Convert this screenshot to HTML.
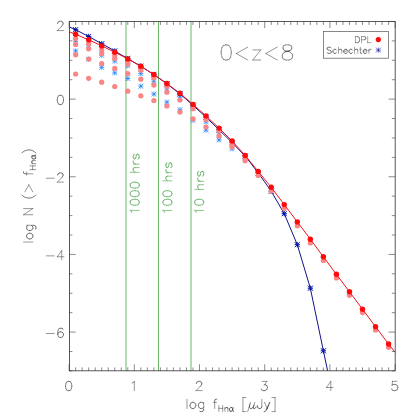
<!DOCTYPE html><html><head><meta charset="utf-8"><style>html,body{margin:0;padding:0;background:#fff;font-family:"Liberation Sans",sans-serif}svg{display:block}</style></head><body><svg width="415" height="415" viewBox="0 0 415 415"><rect width="415" height="415" fill="#fff"/><line x1="126.00" y1="21.45" x2="126.00" y2="370.92" stroke="#6ab86a" stroke-width="1.0"/><line x1="158.50" y1="21.45" x2="158.50" y2="370.92" stroke="#6ab86a" stroke-width="1.0"/><line x1="191.00" y1="21.45" x2="191.00" y2="370.92" stroke="#6ab86a" stroke-width="1.0"/><path d="M73.07 41.30H78.17M75.62 38.75V43.85M73.20 38.88L78.04 43.72M73.20 43.72L78.04 38.88" stroke="#1e82ff" stroke-width="0.75" fill="none"/><path d="M73.07 50.90H78.17M75.62 48.35V53.45M73.20 48.48L78.04 53.32M73.20 53.32L78.04 48.48" stroke="#1e82ff" stroke-width="0.75" fill="none"/><path d="M86.11 45.60H91.21M88.66 43.05V48.15M86.24 43.18L91.08 48.02M86.24 48.02L91.08 43.18" stroke="#1e82ff" stroke-width="0.75" fill="none"/><path d="M86.11 59.10H91.21M88.66 56.55V61.65M86.24 56.68L91.08 61.52M86.24 61.52L91.08 56.68" stroke="#1e82ff" stroke-width="0.75" fill="none"/><path d="M99.15 55.30H104.25M101.70 52.75V57.85M99.28 52.88L104.12 57.72M99.28 57.72L104.12 52.88" stroke="#1e82ff" stroke-width="0.75" fill="none"/><path d="M99.15 67.40H104.25M101.70 64.85V69.95M99.28 64.98L104.12 69.82M99.28 69.82L104.12 64.98" stroke="#1e82ff" stroke-width="0.75" fill="none"/><path d="M112.19 61.10H117.29M114.74 58.55V63.65M112.32 58.68L117.16 63.52M112.32 63.52L117.16 58.68" stroke="#1e82ff" stroke-width="0.75" fill="none"/><path d="M112.19 72.90H117.29M114.74 70.35V75.45M112.32 70.48L117.16 75.32M112.32 75.32L117.16 70.48" stroke="#1e82ff" stroke-width="0.75" fill="none"/><path d="M125.23 65.70H130.33M127.78 63.15V68.25M125.36 63.28L130.20 68.12M125.36 68.12L130.20 63.28" stroke="#1e82ff" stroke-width="0.75" fill="none"/><path d="M125.23 78.50H130.33M127.78 75.95V81.05M125.36 76.08L130.20 80.92M125.36 80.92L130.20 76.08" stroke="#1e82ff" stroke-width="0.75" fill="none"/><path d="M138.27 73.60H143.37M140.82 71.05V76.15M138.40 71.18L143.24 76.02M138.40 76.02L143.24 71.18" stroke="#1e82ff" stroke-width="0.75" fill="none"/><path d="M138.27 86.20H143.37M140.82 83.65V88.75M138.40 83.78L143.24 88.62M138.40 88.62L143.24 83.78" stroke="#1e82ff" stroke-width="0.75" fill="none"/><path d="M151.31 81.30H156.41M153.86 78.75V83.85M151.44 78.88L156.28 83.72M151.44 83.72L156.28 78.88" stroke="#1e82ff" stroke-width="0.75" fill="none"/><path d="M151.31 94.10H156.41M153.86 91.55V96.65M151.44 91.68L156.28 96.52M151.44 96.52L156.28 91.68" stroke="#1e82ff" stroke-width="0.75" fill="none"/><path d="M164.35 89.00H169.45M166.90 86.45V91.55M164.48 86.58L169.32 91.42M164.48 91.42L169.32 86.58" stroke="#1e82ff" stroke-width="0.75" fill="none"/><path d="M164.35 102.20H169.45M166.90 99.65V104.75M164.48 99.78L169.32 104.62M164.48 104.62L169.32 99.78" stroke="#1e82ff" stroke-width="0.75" fill="none"/><path d="M177.39 97.20H182.49M179.94 94.65V99.75M177.52 94.78L182.36 99.62M177.52 99.62L182.36 94.78" stroke="#1e82ff" stroke-width="0.75" fill="none"/><path d="M177.39 109.70H182.49M179.94 107.15V112.25M177.52 107.28L182.36 112.12M177.52 112.12L182.36 107.28" stroke="#1e82ff" stroke-width="0.75" fill="none"/><path d="M190.43 108.00H195.53M192.98 105.45V110.55M190.56 105.58L195.40 110.42M190.56 110.42L195.40 105.58" stroke="#1e82ff" stroke-width="0.75" fill="none"/><path d="M190.43 120.30H195.53M192.98 117.75V122.85M190.56 117.88L195.40 122.72M190.56 122.72L195.40 117.88" stroke="#1e82ff" stroke-width="0.75" fill="none"/><path d="M203.47 121.80H208.57M206.02 119.25V124.35M203.60 119.38L208.44 124.22M203.60 124.22L208.44 119.38" stroke="#1e82ff" stroke-width="0.75" fill="none"/><path d="M203.47 130.10H208.57M206.02 127.55V132.65M203.60 127.68L208.44 132.52M203.60 132.52L208.44 127.68" stroke="#1e82ff" stroke-width="0.75" fill="none"/><path d="M216.51 133.00H221.61M219.06 130.45V135.55M216.64 130.58L221.48 135.42M216.64 135.42L221.48 130.58" stroke="#1e82ff" stroke-width="0.75" fill="none"/><path d="M216.51 139.90H221.61M219.06 137.35V142.45M216.64 137.48L221.48 142.32M216.64 142.32L221.48 137.48" stroke="#1e82ff" stroke-width="0.75" fill="none"/><path d="M229.55 148.80H234.65M232.10 146.25V151.35M229.68 146.38L234.52 151.22M229.68 151.22L234.52 146.38" stroke="#1e82ff" stroke-width="0.75" fill="none"/><path d="M73.07 29.70H78.17M75.62 27.15V32.25M73.20 27.28L78.04 32.12M73.20 32.12L78.04 27.28" stroke="#1e82ff" stroke-width="0.75" fill="none"/><path d="M86.11 36.50H91.21M88.66 33.95V39.05M86.24 34.08L91.08 38.92M86.24 38.92L91.08 34.08" stroke="#1e82ff" stroke-width="0.75" fill="none"/><path d="M99.15 43.70H104.25M101.70 41.15V46.25M99.28 41.28L104.12 46.12M99.28 46.12L104.12 41.28" stroke="#1e82ff" stroke-width="0.75" fill="none"/><path d="M112.19 51.00H117.29M114.74 48.45V53.55M112.32 48.58L117.16 53.42M112.32 53.42L117.16 48.58" stroke="#1e82ff" stroke-width="0.75" fill="none"/><path d="M125.23 58.60H130.33M127.78 56.05V61.15M125.36 56.18L130.20 61.02M125.36 61.02L130.20 56.18" stroke="#1e82ff" stroke-width="0.75" fill="none"/><path d="M138.27 66.20H143.37M140.82 63.65V68.75M138.40 63.78L143.24 68.62M138.40 68.62L143.24 63.78" stroke="#1e82ff" stroke-width="0.75" fill="none"/><path d="M151.31 74.60H156.41M153.86 72.05V77.15M151.44 72.18L156.28 77.02M151.44 77.02L156.28 72.18" stroke="#1e82ff" stroke-width="0.75" fill="none"/><path d="M164.35 83.80H169.45M166.90 81.25V86.35M164.48 81.38L169.32 86.22M164.48 86.22L169.32 81.38" stroke="#1e82ff" stroke-width="0.75" fill="none"/><path d="M177.39 93.90H182.49M179.94 91.35V96.45M177.52 91.48L182.36 96.32M177.52 96.32L182.36 91.48" stroke="#1e82ff" stroke-width="0.75" fill="none"/><path d="M190.43 105.20H195.53M192.98 102.65V107.75M190.56 102.78L195.40 107.62M190.56 107.62L195.40 102.78" stroke="#1e82ff" stroke-width="0.75" fill="none"/><path d="M203.47 117.20H208.57M206.02 114.65V119.75M203.60 114.78L208.44 119.62M203.60 119.62L208.44 114.78" stroke="#1e82ff" stroke-width="0.75" fill="none"/><path d="M216.51 129.80H221.61M219.06 127.25V132.35M216.64 127.38L221.48 132.22M216.64 132.22L221.48 127.38" stroke="#1e82ff" stroke-width="0.75" fill="none"/><path d="M229.55 142.60H234.65M232.10 140.05V145.15M229.68 140.18L234.52 145.02M229.68 145.02L234.52 140.18" stroke="#1e82ff" stroke-width="0.75" fill="none"/><path d="M242.59 156.00H247.69M245.14 153.45V158.55M242.72 153.58L247.56 158.42M242.72 158.42L247.56 153.58" stroke="#1e82ff" stroke-width="0.75" fill="none"/><path d="M255.63 172.80H260.73M258.18 170.25V175.35M255.76 170.38L260.60 175.22M255.76 175.22L260.60 170.38" stroke="#1e82ff" stroke-width="0.75" fill="none"/><path d="M268.67 191.20H273.77M271.22 188.65V193.75M268.80 188.78L273.64 193.62M268.80 193.62L273.64 188.78" stroke="#1e82ff" stroke-width="0.75" fill="none"/><path d="M281.71 213.70H286.81M284.26 211.15V216.25M281.84 211.28L286.68 216.12M281.84 216.12L286.68 211.28" stroke="#1e82ff" stroke-width="0.75" fill="none"/><path d="M294.75 244.70H299.85M297.30 242.15V247.25M294.88 242.28L299.72 247.12M294.88 247.12L299.72 242.28" stroke="#1e82ff" stroke-width="0.75" fill="none"/><path d="M307.79 288.20H312.89M310.34 285.65V290.75M307.92 285.78L312.76 290.62M307.92 290.62L312.76 285.78" stroke="#1e82ff" stroke-width="0.75" fill="none"/><path d="M320.83 350.80H325.93M323.38 348.25V353.35M320.96 348.38L325.80 353.22M320.96 353.22L325.80 348.38" stroke="#1e82ff" stroke-width="0.75" fill="none"/><polyline points="69.45,27.00 75.62,29.70 88.66,36.50 101.70,43.70 114.74,51.00 127.78,58.60 140.82,66.20 153.86,74.60 166.90,83.80 179.94,93.90 192.98,105.20 206.02,117.20 219.06,129.80 232.10,142.60 245.14,156.00 258.18,172.80 271.22,191.20 284.26,213.70 297.30,244.70 310.34,288.20 323.38,350.80 327.60,370.80" fill="none" stroke="#12128c" stroke-width="1.0"/><path d="M73.02 29.70H78.22M75.62 27.10V32.30M73.15 27.23L78.09 32.17M73.15 32.17L78.09 27.23" stroke="#0c0c96" stroke-width="0.85" fill="none"/><path d="M86.06 36.50H91.26M88.66 33.90V39.10M86.19 34.03L91.13 38.97M86.19 38.97L91.13 34.03" stroke="#0c0c96" stroke-width="0.85" fill="none"/><path d="M99.10 43.70H104.30M101.70 41.10V46.30M99.23 41.23L104.17 46.17M99.23 46.17L104.17 41.23" stroke="#0c0c96" stroke-width="0.85" fill="none"/><path d="M112.14 51.00H117.34M114.74 48.40V53.60M112.27 48.53L117.21 53.47M112.27 53.47L117.21 48.53" stroke="#0c0c96" stroke-width="0.85" fill="none"/><path d="M125.18 58.60H130.38M127.78 56.00V61.20M125.31 56.13L130.25 61.07M125.31 61.07L130.25 56.13" stroke="#0c0c96" stroke-width="0.85" fill="none"/><path d="M138.22 66.20H143.42M140.82 63.60V68.80M138.35 63.73L143.29 68.67M138.35 68.67L143.29 63.73" stroke="#0c0c96" stroke-width="0.85" fill="none"/><path d="M151.26 74.60H156.46M153.86 72.00V77.20M151.39 72.13L156.33 77.07M151.39 77.07L156.33 72.13" stroke="#0c0c96" stroke-width="0.85" fill="none"/><path d="M164.30 83.80H169.50M166.90 81.20V86.40M164.43 81.33L169.37 86.27M164.43 86.27L169.37 81.33" stroke="#0c0c96" stroke-width="0.85" fill="none"/><path d="M177.34 93.90H182.54M179.94 91.30V96.50M177.47 91.43L182.41 96.37M177.47 96.37L182.41 91.43" stroke="#0c0c96" stroke-width="0.85" fill="none"/><path d="M190.38 105.20H195.58M192.98 102.60V107.80M190.51 102.73L195.45 107.67M190.51 107.67L195.45 102.73" stroke="#0c0c96" stroke-width="0.85" fill="none"/><path d="M203.42 117.20H208.62M206.02 114.60V119.80M203.55 114.73L208.49 119.67M203.55 119.67L208.49 114.73" stroke="#0c0c96" stroke-width="0.85" fill="none"/><path d="M216.46 129.80H221.66M219.06 127.20V132.40M216.59 127.33L221.53 132.27M216.59 132.27L221.53 127.33" stroke="#0c0c96" stroke-width="0.85" fill="none"/><path d="M229.50 142.60H234.70M232.10 140.00V145.20M229.63 140.13L234.57 145.07M229.63 145.07L234.57 140.13" stroke="#0c0c96" stroke-width="0.85" fill="none"/><path d="M242.54 156.00H247.74M245.14 153.40V158.60M242.67 153.53L247.61 158.47M242.67 158.47L247.61 153.53" stroke="#0c0c96" stroke-width="0.85" fill="none"/><path d="M255.58 172.80H260.78M258.18 170.20V175.40M255.71 170.33L260.65 175.27M255.71 175.27L260.65 170.33" stroke="#0c0c96" stroke-width="0.85" fill="none"/><path d="M268.62 191.20H273.82M271.22 188.60V193.80M268.75 188.73L273.69 193.67M268.75 193.67L273.69 188.73" stroke="#0c0c96" stroke-width="0.85" fill="none"/><path d="M281.66 213.70H286.86M284.26 211.10V216.30M281.79 211.23L286.73 216.17M281.79 216.17L286.73 211.23" stroke="#0c0c96" stroke-width="0.85" fill="none"/><path d="M294.70 244.70H299.90M297.30 242.10V247.30M294.83 242.23L299.77 247.17M294.83 247.17L299.77 242.23" stroke="#0c0c96" stroke-width="0.85" fill="none"/><path d="M307.74 288.20H312.94M310.34 285.60V290.80M307.87 285.73L312.81 290.67M307.87 290.67L312.81 285.73" stroke="#0c0c96" stroke-width="0.85" fill="none"/><path d="M320.78 350.80H325.98M323.38 348.20V353.40M320.91 348.33L325.85 353.27M320.91 353.27L325.85 348.33" stroke="#0c0c96" stroke-width="0.85" fill="none"/><circle cx="75.62" cy="38.40" r="2.6" fill="#fb8484"/><circle cx="75.62" cy="44.40" r="2.6" fill="#fb8484"/><circle cx="75.62" cy="54.80" r="2.6" fill="#fb8484"/><circle cx="75.62" cy="74.00" r="2.6" fill="#fb8484"/><circle cx="88.66" cy="43.70" r="2.6" fill="#fb8484"/><circle cx="88.66" cy="48.80" r="2.6" fill="#fb8484"/><circle cx="88.66" cy="59.10" r="2.6" fill="#fb8484"/><circle cx="88.66" cy="78.30" r="2.6" fill="#fb8484"/><circle cx="101.70" cy="50.00" r="2.6" fill="#fb8484"/><circle cx="101.70" cy="53.60" r="2.6" fill="#fb8484"/><circle cx="101.70" cy="63.50" r="2.6" fill="#fb8484"/><circle cx="101.70" cy="82.20" r="2.6" fill="#fb8484"/><circle cx="114.74" cy="55.80" r="2.6" fill="#fb8484"/><circle cx="114.74" cy="58.70" r="2.6" fill="#fb8484"/><circle cx="114.74" cy="68.40" r="2.6" fill="#fb8484"/><circle cx="114.74" cy="86.50" r="2.6" fill="#fb8484"/><circle cx="127.78" cy="61.50" r="2.6" fill="#fb8484"/><circle cx="127.78" cy="63.90" r="2.6" fill="#fb8484"/><circle cx="127.78" cy="73.50" r="2.6" fill="#fb8484"/><circle cx="127.78" cy="91.20" r="2.6" fill="#fb8484"/><circle cx="140.82" cy="68.50" r="2.6" fill="#fb8484"/><circle cx="140.82" cy="70.20" r="2.6" fill="#fb8484"/><circle cx="140.82" cy="79.20" r="2.6" fill="#fb8484"/><circle cx="140.82" cy="95.80" r="2.6" fill="#fb8484"/><circle cx="153.86" cy="77.90" r="2.6" fill="#fb8484"/><circle cx="153.86" cy="85.10" r="2.6" fill="#fb8484"/><circle cx="153.86" cy="100.50" r="2.6" fill="#fb8484"/><circle cx="166.90" cy="86.40" r="2.6" fill="#fb8484"/><circle cx="166.90" cy="92.20" r="2.6" fill="#fb8484"/><circle cx="166.90" cy="106.00" r="2.6" fill="#fb8484"/><circle cx="179.94" cy="100.00" r="2.6" fill="#fb8484"/><circle cx="179.94" cy="112.10" r="2.6" fill="#fb8484"/><circle cx="192.98" cy="108.70" r="2.6" fill="#fb8484"/><circle cx="192.98" cy="118.80" r="2.6" fill="#fb8484"/><circle cx="206.02" cy="119.50" r="2.6" fill="#fb8484"/><circle cx="206.02" cy="127.00" r="2.6" fill="#fb8484"/><circle cx="219.06" cy="131.00" r="2.6" fill="#fb8484"/><circle cx="219.06" cy="136.00" r="2.6" fill="#fb8484"/><circle cx="232.10" cy="144.50" r="2.6" fill="#fb8484"/><circle cx="232.10" cy="146.90" r="2.6" fill="#fb8484"/><circle cx="245.14" cy="158.90" r="2.6" fill="#fb8484"/><circle cx="245.14" cy="160.70" r="2.6" fill="#fb8484"/><circle cx="258.18" cy="175.40" r="2.6" fill="#fb8484"/><circle cx="271.22" cy="191.10" r="2.6" fill="#fb8484"/><circle cx="284.26" cy="208.40" r="2.6" fill="#fb8484"/><circle cx="297.30" cy="225.80" r="2.6" fill="#fb8484"/><circle cx="310.34" cy="242.90" r="2.6" fill="#fb8484"/><circle cx="323.38" cy="260.50" r="2.6" fill="#fb8484"/><circle cx="336.42" cy="277.90" r="2.6" fill="#fb8484"/><circle cx="349.46" cy="295.30" r="2.6" fill="#fb8484"/><circle cx="362.50" cy="312.60" r="2.6" fill="#fb8484"/><circle cx="375.54" cy="330.00" r="2.6" fill="#fb8484"/><circle cx="388.58" cy="347.30" r="2.6" fill="#fb8484"/><polyline points="69.45,31.90 75.62,34.30 88.66,39.80 101.70,45.90 114.74,52.20 127.78,58.90 140.82,66.30 153.86,74.50 166.90,83.50 179.94,93.30 192.98,104.40 206.02,115.90 219.06,128.10 232.10,141.00 245.14,155.40 258.18,171.40 271.22,187.30 284.26,204.60 297.30,221.90 310.34,239.20 323.38,256.80 336.42,274.30 349.46,291.80 362.50,309.20 375.54,326.70 388.58,344.00 395.00,352.30" fill="none" stroke="#f0141e" stroke-width="1.0"/><circle cx="75.62" cy="34.30" r="2.7" fill="#ff0a0a"/><circle cx="88.66" cy="39.80" r="2.7" fill="#ff0a0a"/><circle cx="101.70" cy="45.90" r="2.7" fill="#ff0a0a"/><circle cx="114.74" cy="52.20" r="2.7" fill="#ff0a0a"/><circle cx="127.78" cy="58.90" r="2.7" fill="#ff0a0a"/><circle cx="140.82" cy="66.30" r="2.7" fill="#ff0a0a"/><circle cx="153.86" cy="74.50" r="2.7" fill="#ff0a0a"/><circle cx="166.90" cy="83.50" r="2.7" fill="#ff0a0a"/><circle cx="179.94" cy="93.30" r="2.7" fill="#ff0a0a"/><circle cx="192.98" cy="104.40" r="2.7" fill="#ff0a0a"/><circle cx="206.02" cy="115.90" r="2.7" fill="#ff0a0a"/><circle cx="219.06" cy="128.10" r="2.7" fill="#ff0a0a"/><circle cx="232.10" cy="141.00" r="2.7" fill="#ff0a0a"/><circle cx="245.14" cy="155.40" r="2.7" fill="#ff0a0a"/><circle cx="258.18" cy="171.40" r="2.7" fill="#ff0a0a"/><circle cx="271.22" cy="187.30" r="2.7" fill="#ff0a0a"/><circle cx="284.26" cy="204.60" r="2.7" fill="#ff0a0a"/><circle cx="297.30" cy="221.90" r="2.7" fill="#ff0a0a"/><circle cx="310.34" cy="239.20" r="2.7" fill="#ff0a0a"/><circle cx="323.38" cy="256.80" r="2.7" fill="#ff0a0a"/><circle cx="336.42" cy="274.30" r="2.7" fill="#ff0a0a"/><circle cx="349.46" cy="291.80" r="2.7" fill="#ff0a0a"/><circle cx="362.50" cy="309.20" r="2.7" fill="#ff0a0a"/><circle cx="375.54" cy="326.70" r="2.7" fill="#ff0a0a"/><circle cx="388.58" cy="344.00" r="2.7" fill="#ff0a0a"/><g stroke="#3c3c3c" stroke-width="0.6" fill="none"><rect x="69.45" y="21.50" width="325.75" height="349.30" stroke-width="0.85"/><path d="M69.10 370.92v-6.60M69.10 21.45v6.60M75.62 370.92v-3.50M75.62 21.45v3.50M82.14 370.92v-3.50M82.14 21.45v3.50M88.66 370.92v-3.50M88.66 21.45v3.50M95.18 370.92v-3.50M95.18 21.45v3.50M101.70 370.92v-3.50M101.70 21.45v3.50M108.22 370.92v-3.50M108.22 21.45v3.50M114.74 370.92v-3.50M114.74 21.45v3.50M121.26 370.92v-3.50M121.26 21.45v3.50M127.78 370.92v-3.50M127.78 21.45v3.50M134.30 370.92v-6.60M134.30 21.45v6.60M140.82 370.92v-3.50M140.82 21.45v3.50M147.34 370.92v-3.50M147.34 21.45v3.50M153.86 370.92v-3.50M153.86 21.45v3.50M160.38 370.92v-3.50M160.38 21.45v3.50M166.90 370.92v-3.50M166.90 21.45v3.50M173.42 370.92v-3.50M173.42 21.45v3.50M179.94 370.92v-3.50M179.94 21.45v3.50M186.46 370.92v-3.50M186.46 21.45v3.50M192.98 370.92v-3.50M192.98 21.45v3.50M199.50 370.92v-6.60M199.50 21.45v6.60M206.02 370.92v-3.50M206.02 21.45v3.50M212.54 370.92v-3.50M212.54 21.45v3.50M219.06 370.92v-3.50M219.06 21.45v3.50M225.58 370.92v-3.50M225.58 21.45v3.50M232.10 370.92v-3.50M232.10 21.45v3.50M238.62 370.92v-3.50M238.62 21.45v3.50M245.14 370.92v-3.50M245.14 21.45v3.50M251.66 370.92v-3.50M251.66 21.45v3.50M258.18 370.92v-3.50M258.18 21.45v3.50M264.70 370.92v-6.60M264.70 21.45v6.60M271.22 370.92v-3.50M271.22 21.45v3.50M277.74 370.92v-3.50M277.74 21.45v3.50M284.26 370.92v-3.50M284.26 21.45v3.50M290.78 370.92v-3.50M290.78 21.45v3.50M297.30 370.92v-3.50M297.30 21.45v3.50M303.82 370.92v-3.50M303.82 21.45v3.50M310.34 370.92v-3.50M310.34 21.45v3.50M316.86 370.92v-3.50M316.86 21.45v3.50M323.38 370.92v-3.50M323.38 21.45v3.50M329.90 370.92v-6.60M329.90 21.45v6.60M336.42 370.92v-3.50M336.42 21.45v3.50M342.94 370.92v-3.50M342.94 21.45v3.50M349.46 370.92v-3.50M349.46 21.45v3.50M355.98 370.92v-3.50M355.98 21.45v3.50M362.50 370.92v-3.50M362.50 21.45v3.50M369.02 370.92v-3.50M369.02 21.45v3.50M375.54 370.92v-3.50M375.54 21.45v3.50M382.06 370.92v-3.50M382.06 21.45v3.50M388.58 370.92v-3.50M388.58 21.45v3.50M395.10 370.92v-6.60M395.10 21.45v6.60M69.10 21.45h6.60M395.10 21.45h-6.60M69.10 40.86h3.30M395.10 40.86h-3.30M69.10 60.28h3.30M395.10 60.28h-3.30M69.10 79.69h3.30M395.10 79.69h-3.30M69.10 99.11h6.60M395.10 99.11h-6.60M69.10 118.52h3.30M395.10 118.52h-3.30M69.10 137.94h3.30M395.10 137.94h-3.30M69.10 157.35h3.30M395.10 157.35h-3.30M69.10 176.77h6.60M395.10 176.77h-6.60M69.10 196.18h3.30M395.10 196.18h-3.30M69.10 215.60h3.30M395.10 215.60h-3.30M69.10 235.01h3.30M395.10 235.01h-3.30M69.10 254.43h6.60M395.10 254.43h-6.60M69.10 273.84h3.30M395.10 273.84h-3.30M69.10 293.26h3.30M395.10 293.26h-3.30M69.10 312.67h3.30M395.10 312.67h-3.30M69.10 332.09h6.60M395.10 332.09h-6.60M69.10 351.50h3.30M395.10 351.50h-3.30M69.10 370.92h3.30M395.10 370.92h-3.30"/></g><g stroke="#383838" stroke-width="0.52" fill="none" stroke-linecap="round" stroke-linejoin="round"><path transform="translate(68.70 390.60) rotate(0)" d="M-0.44 -9.24L0.44 -9.24M-0.44 -9.24L-1.76 -8.80M0.44 -9.24L1.76 -8.80M-1.76 -8.80L-2.64 -7.48M1.76 -8.80L2.64 -7.48M-2.64 -7.48L-3.08 -5.28M2.64 -7.48L3.08 -5.28M-3.08 -5.28L-3.08 -3.96M3.08 -5.28L3.08 -3.96M-3.08 -3.96L-2.64 -1.76M3.08 -3.96L2.64 -1.76M-2.64 -1.76L-1.76 -0.44M2.64 -1.76L1.76 -0.44M-1.76 -0.44L-0.44 0.00M1.76 -0.44L0.44 0.00M-0.44 0.00L0.44 0.00"/><path transform="translate(133.90 390.60) rotate(0)" d="M0.44 -9.24L-0.88 -7.92M0.44 -9.24L0.44 0.00M-0.88 -7.92L-1.76 -7.48"/><path transform="translate(199.10 390.60) rotate(0)" d="M-0.88 -9.24L0.88 -9.24M-0.88 -9.24L-1.76 -8.80M0.88 -9.24L1.76 -8.80M-1.76 -8.80L-2.20 -8.36M1.76 -8.80L2.20 -8.36M-2.20 -8.36L-2.64 -7.48M2.20 -8.36L2.64 -7.48M-2.64 -7.48L-2.64 -7.04M2.64 -7.48L2.64 -6.60M2.64 -6.60L2.20 -5.72M2.20 -5.72L1.32 -4.40M1.32 -4.40L-3.08 0.00M-3.08 0.00L3.08 0.00"/><path transform="translate(264.30 390.60) rotate(0)" d="M-2.20 -9.24L2.64 -9.24M2.64 -9.24L0.00 -5.72M0.00 -5.72L1.32 -5.72M1.32 -5.72L2.20 -5.28M2.20 -5.28L2.64 -4.84M2.64 -4.84L3.08 -3.52M3.08 -3.52L3.08 -2.64M3.08 -2.64L2.64 -1.32M-3.08 -1.76L-2.64 -0.88M2.64 -1.32L1.76 -0.44M-2.64 -0.88L-2.20 -0.44M-2.20 -0.44L-0.88 0.00M1.76 -0.44L0.44 0.00M-0.88 0.00L0.44 0.00"/><path transform="translate(329.50 390.60) rotate(0)" d="M1.32 -9.24L-3.08 -3.08M1.32 -9.24L1.32 0.00M-3.08 -3.08L3.52 -3.08"/><path transform="translate(394.70 390.60) rotate(0)" d="M-2.20 -9.24L2.20 -9.24M-2.20 -9.24L-2.64 -5.28M-0.88 -6.16L0.44 -6.16M-0.88 -6.16L-2.20 -5.72M0.44 -6.16L1.76 -5.72M-2.20 -5.72L-2.64 -5.28M1.76 -5.72L2.64 -4.84M2.64 -4.84L3.08 -3.52M3.08 -3.52L3.08 -2.64M3.08 -2.64L2.64 -1.32M-3.08 -1.76L-2.64 -0.88M2.64 -1.32L1.76 -0.44M-2.64 -0.88L-2.20 -0.44M-2.20 -0.44L-0.88 0.00M1.76 -0.44L0.44 0.00M-0.88 0.00L0.44 0.00"/><path transform="translate(64.80 30.55) rotate(0)" d="M-5.28 -9.24L-3.52 -9.24M-5.28 -9.24L-6.16 -8.80M-3.52 -9.24L-2.64 -8.80M-6.16 -8.80L-6.60 -8.36M-2.64 -8.80L-2.20 -8.36M-6.60 -8.36L-7.04 -7.48M-2.20 -8.36L-1.76 -7.48M-7.04 -7.48L-7.04 -7.04M-1.76 -7.48L-1.76 -6.60M-1.76 -6.60L-2.20 -5.72M-2.20 -5.72L-3.08 -4.40M-3.08 -4.40L-7.48 0.00M-7.48 0.00L-1.32 0.00"/><path transform="translate(64.80 104.51) rotate(0)" d="M-4.84 -9.24L-3.96 -9.24M-4.84 -9.24L-6.16 -8.80M-3.96 -9.24L-2.64 -8.80M-6.16 -8.80L-7.04 -7.48M-2.64 -8.80L-1.76 -7.48M-7.04 -7.48L-7.48 -5.28M-1.76 -7.48L-1.32 -5.28M-7.48 -5.28L-7.48 -3.96M-1.32 -5.28L-1.32 -3.96M-7.48 -3.96L-7.04 -1.76M-1.32 -3.96L-1.76 -1.76M-7.04 -1.76L-6.16 -0.44M-1.76 -1.76L-2.64 -0.44M-6.16 -0.44L-4.84 0.00M-2.64 -0.44L-3.96 0.00M-4.84 0.00L-3.96 0.00"/><path transform="translate(64.80 182.17) rotate(0)" d="M-18.48 -3.96L-10.56 -3.96M-5.28 -9.24L-3.52 -9.24M-5.28 -9.24L-6.16 -8.80M-3.52 -9.24L-2.64 -8.80M-6.16 -8.80L-6.60 -8.36M-2.64 -8.80L-2.20 -8.36M-6.60 -8.36L-7.04 -7.48M-2.20 -8.36L-1.76 -7.48M-7.04 -7.48L-7.04 -7.04M-1.76 -7.48L-1.76 -6.60M-1.76 -6.60L-2.20 -5.72M-2.20 -5.72L-3.08 -4.40M-3.08 -4.40L-7.48 0.00M-7.48 0.00L-1.32 0.00"/><path transform="translate(64.80 259.83) rotate(0)" d="M-18.48 -3.96L-10.56 -3.96M-3.08 -9.24L-7.48 -3.08M-3.08 -9.24L-3.08 0.00M-7.48 -3.08L-0.88 -3.08"/><path transform="translate(64.80 337.49) rotate(0)" d="M-18.48 -3.96L-10.56 -3.96M-4.40 -9.24L-3.52 -9.24M-4.40 -9.24L-5.72 -8.80M-3.52 -9.24L-2.20 -8.80M-5.72 -8.80L-6.60 -7.48M-2.20 -8.80L-1.76 -7.92M-6.60 -7.48L-7.04 -5.28M-4.40 -5.72L-3.96 -5.72M-4.40 -5.72L-5.72 -5.28M-3.96 -5.72L-2.64 -5.28M-7.04 -5.28L-7.04 -3.08M-5.72 -5.28L-6.60 -4.40M-2.64 -5.28L-1.76 -4.40M-6.60 -4.40L-7.04 -3.08M-1.76 -4.40L-1.32 -3.08M-7.04 -3.08L-6.60 -1.32M-1.32 -3.08L-1.32 -2.64M-1.32 -2.64L-1.76 -1.32M-6.60 -1.32L-5.72 -0.44M-1.76 -1.32L-2.64 -0.44M-5.72 -0.44L-4.40 0.00M-2.64 -0.44L-3.96 0.00M-4.40 0.00L-3.96 0.00"/><path transform="translate(231.00 408.50) rotate(0)" d="M-44.04 -9.24L-44.04 0.00M-38.76 -6.16L-37.44 -6.16M-38.76 -6.16L-39.64 -5.72M-37.44 -6.16L-36.56 -5.72M-39.64 -5.72L-40.52 -4.84M-36.56 -5.72L-35.68 -4.84M-40.52 -4.84L-40.96 -3.52M-35.68 -4.84L-35.24 -3.52M-40.96 -3.52L-40.96 -2.64M-35.24 -3.52L-35.24 -2.64M-40.96 -2.64L-40.52 -1.32M-35.24 -2.64L-35.68 -1.32M-40.52 -1.32L-39.64 -0.44M-35.68 -1.32L-36.56 -0.44M-39.64 -0.44L-38.76 0.00M-36.56 -0.44L-37.44 0.00M-38.76 0.00L-37.44 0.00M-30.40 -6.16L-29.08 -6.16M-30.40 -6.16L-31.28 -5.72M-29.08 -6.16L-28.20 -5.72M-27.32 -6.16L-27.32 0.88M-31.28 -5.72L-32.16 -4.84M-28.20 -5.72L-27.32 -4.84M-32.16 -4.84L-32.60 -3.52M-32.60 -3.52L-32.60 -2.64M-32.60 -2.64L-32.16 -1.32M-32.16 -1.32L-31.28 -0.44M-27.32 -1.32L-28.20 -0.44M-31.28 -0.44L-30.40 0.00M-28.20 -0.44L-29.08 0.00M-30.40 0.00L-29.08 0.00M-27.32 0.88L-27.76 2.20M-27.76 2.20L-28.20 2.64M-31.28 2.64L-30.40 3.08M-28.20 2.64L-29.08 3.08M-30.40 3.08L-29.08 3.08M-15.00 -9.24L-14.12 -9.24M-15.00 -9.24L-15.88 -8.80M-15.88 -8.80L-16.32 -7.48M-16.32 -7.48L-16.32 0.00M-17.64 -6.16L-14.56 -6.16M-12.15 -2.87L-12.15 2.86M-8.33 -2.87L-8.33 2.86M-12.15 -0.14L-8.33 -0.14M-6.15 -0.96L-6.15 2.86M-4.79 -0.96L-3.97 -0.96M-4.79 -0.96L-5.33 -0.69M-3.97 -0.96L-3.42 -0.69M-5.33 -0.69L-6.15 0.13M-3.42 -0.69L-3.15 0.13M-3.15 0.13L-3.15 2.86M2.31 -0.96L1.76 0.68M1.76 0.68L1.21 2.04M1.21 2.04L0.67 2.59M0.67 2.59L0.12 2.86M0.12 2.86L-0.42 2.86M-0.42 2.86L-0.97 2.59M-0.97 2.59L-1.24 2.04M-1.24 2.04L-1.51 1.22M-1.51 1.22L-1.51 0.68M-1.51 0.68L-1.24 -0.14M-1.24 -0.14L-0.70 -0.69M-0.70 -0.69L0.12 -0.96M0.12 -0.96L0.67 -0.96M0.67 -0.96L1.21 -0.69M1.21 -0.69L1.49 -0.14M1.49 -0.14L1.76 1.22M1.76 1.22L2.03 2.31M2.03 2.31L2.31 2.86M2.31 2.86L2.58 2.86M11.92 -11.00L15.00 -11.00M11.92 -11.00L11.92 3.08M11.92 3.08L15.00 3.08M19.40 -6.16L16.76 3.08M18.96 -4.40L18.52 -2.20M18.52 -2.20L18.52 -0.88M18.52 -0.88L19.40 0.00M19.40 0.00L20.28 0.00M20.28 0.00L21.16 -0.44M21.16 -0.44L22.04 -1.32M22.04 -1.32L22.92 -3.08M23.80 -6.16L22.92 -3.08M22.92 -3.08L22.48 -1.32M22.48 -1.32L22.48 -0.44M22.48 -0.44L22.92 0.00M22.92 0.00L23.80 0.00M23.80 0.00L24.68 -0.88M24.68 -0.88L25.12 -1.76M30.84 -9.24L30.84 -2.20M26.44 -3.08L26.44 -2.20M26.44 -2.20L26.88 -0.88M30.84 -2.20L30.40 -0.88M26.88 -0.88L27.32 -0.44M30.40 -0.88L29.96 -0.44M27.32 -0.44L28.20 0.00M29.96 -0.44L29.08 0.00M28.20 0.00L29.08 0.00M33.48 -6.16L36.12 0.00M38.76 -6.16L36.12 0.00M38.76 -6.16L35.68 0.88M37.44 -3.08L35.68 0.88M36.12 0.00L35.24 1.76M35.24 1.76L34.36 2.64M34.36 2.64L33.48 3.08M33.04 3.08L33.48 3.08M40.96 -11.00L44.04 -11.00M44.04 -11.00L44.04 3.08M40.96 3.08L44.04 3.08"/><path transform="translate(32.80 196.00) rotate(-90)" d="M-46.02 -9.24L-46.02 0.00M-40.74 -6.16L-39.42 -6.16M-40.74 -6.16L-41.62 -5.72M-39.42 -6.16L-38.54 -5.72M-41.62 -5.72L-42.50 -4.84M-38.54 -5.72L-37.66 -4.84M-42.50 -4.84L-42.94 -3.52M-37.66 -4.84L-37.22 -3.52M-42.94 -3.52L-42.94 -2.64M-37.22 -3.52L-37.22 -2.64M-42.94 -2.64L-42.50 -1.32M-37.22 -2.64L-37.66 -1.32M-42.50 -1.32L-41.62 -0.44M-37.66 -1.32L-38.54 -0.44M-41.62 -0.44L-40.74 0.00M-38.54 -0.44L-39.42 0.00M-40.74 0.00L-39.42 0.00M-32.38 -6.16L-31.06 -6.16M-32.38 -6.16L-33.26 -5.72M-31.06 -6.16L-30.18 -5.72M-29.30 -6.16L-29.30 0.88M-33.26 -5.72L-34.14 -4.84M-30.18 -5.72L-29.30 -4.84M-34.14 -4.84L-34.58 -3.52M-34.58 -3.52L-34.58 -2.64M-34.58 -2.64L-34.14 -1.32M-34.14 -1.32L-33.26 -0.44M-29.30 -1.32L-30.18 -0.44M-33.26 -0.44L-32.38 0.00M-30.18 -0.44L-31.06 0.00M-32.38 0.00L-31.06 0.00M-29.30 0.88L-29.74 2.20M-29.74 2.20L-30.18 2.64M-33.26 2.64L-32.38 3.08M-30.18 2.64L-31.06 3.08M-32.38 3.08L-31.06 3.08M-18.74 -9.24L-18.74 0.00M-18.74 -9.24L-12.58 0.00M-12.58 -9.24L-12.58 0.00M1.06 -11.00L0.18 -10.12M0.18 -10.12L-0.70 -8.80M-0.70 -8.80L-1.58 -7.04M-1.58 -7.04L-2.02 -4.84M-2.02 -4.84L-2.02 -3.08M-2.02 -3.08L-1.58 -0.88M-1.58 -0.88L-0.70 0.88M-0.70 0.88L0.18 2.20M0.18 2.20L1.06 3.08M4.14 -7.92L11.18 -3.96M11.18 -3.96L4.14 0.00M23.50 -9.24L24.38 -9.24M23.50 -9.24L22.62 -8.80M22.62 -8.80L22.18 -7.48M22.18 -7.48L22.18 0.00M20.86 -6.16L23.94 -6.16M26.35 -2.87L26.35 2.86M30.17 -2.87L30.17 2.86M26.35 -0.14L30.17 -0.14M32.35 -0.96L32.35 2.86M33.71 -0.96L34.53 -0.96M33.71 -0.96L33.17 -0.69M34.53 -0.96L35.08 -0.69M33.17 -0.69L32.35 0.13M35.08 -0.69L35.35 0.13M35.35 0.13L35.35 2.86M40.81 -0.96L40.26 0.68M40.26 0.68L39.71 2.04M39.71 2.04L39.17 2.59M39.17 2.59L38.62 2.86M38.62 2.86L38.08 2.86M38.08 2.86L37.53 2.59M37.53 2.59L37.26 2.04M37.26 2.04L36.99 1.22M36.99 1.22L36.99 0.68M36.99 0.68L37.26 -0.14M37.26 -0.14L37.80 -0.69M37.80 -0.69L38.62 -0.96M38.62 -0.96L39.17 -0.96M39.17 -0.96L39.71 -0.69M39.71 -0.69L39.99 -0.14M39.99 -0.14L40.26 1.22M40.26 1.22L40.53 2.31M40.53 2.31L40.81 2.86M40.81 2.86L41.08 2.86M42.94 -11.00L43.82 -10.12M43.82 -10.12L44.70 -8.80M44.70 -8.80L45.58 -7.04M45.58 -7.04L46.02 -4.84M46.02 -4.84L46.02 -3.08M46.02 -3.08L45.58 -0.88M45.58 -0.88L44.70 0.88M44.70 0.88L43.82 2.20M43.82 2.20L42.94 3.08"/><path transform="translate(219.00 60.00) rotate(0)" d="M6.48 -15.12L7.92 -15.12M6.48 -15.12L4.32 -14.40M7.92 -15.12L10.08 -14.40M4.32 -14.40L2.88 -12.24M10.08 -14.40L11.52 -12.24M2.88 -12.24L2.16 -8.64M11.52 -12.24L12.24 -8.64M2.16 -8.64L2.16 -6.48M12.24 -8.64L12.24 -6.48M2.16 -6.48L2.88 -2.88M12.24 -6.48L11.52 -2.88M2.88 -2.88L4.32 -0.72M11.52 -2.88L10.08 -0.72M4.32 -0.72L6.48 0.00M10.08 -0.72L7.92 0.00M6.48 0.00L7.92 0.00M28.80 -12.96L17.28 -6.48M17.28 -6.48L28.80 0.00M33.84 -10.08L41.76 -10.08M41.76 -10.08L33.84 0.00M33.84 0.00L41.76 0.00M58.32 -12.96L46.80 -6.48M46.80 -6.48L58.32 0.00M66.96 -15.12L69.84 -15.12M66.96 -15.12L64.80 -14.40M69.84 -15.12L72.00 -14.40M64.80 -14.40L64.08 -12.96M72.00 -14.40L72.72 -12.96M64.08 -12.96L64.08 -11.52M72.72 -12.96L72.72 -11.52M64.08 -11.52L64.80 -10.08M72.72 -11.52L72.00 -10.08M64.80 -10.08L66.24 -9.36M72.00 -10.08L70.56 -9.36M66.24 -9.36L69.12 -8.64M70.56 -9.36L67.68 -8.64M70.56 -9.36L65.52 -7.92M67.68 -8.64L65.52 -7.92M69.12 -8.64L71.28 -7.92M65.52 -7.92L64.08 -6.48M71.28 -7.92L72.72 -6.48M64.08 -6.48L63.36 -5.04M72.72 -6.48L73.44 -5.04M63.36 -5.04L63.36 -2.88M73.44 -5.04L73.44 -2.88M63.36 -2.88L64.08 -1.44M73.44 -2.88L72.72 -1.44M64.08 -1.44L64.80 -0.72M72.72 -1.44L72.00 -0.72M64.80 -0.72L66.96 0.00M72.00 -0.72L69.84 0.00M66.96 0.00L69.84 0.00"/><g stroke-width="0.45"><path transform="translate(371.50 42.70) rotate(0)" d="M-16.06 -6.13L-14.02 -6.13M-16.06 -6.13L-16.06 0.00M-14.02 -6.13L-13.14 -5.84M-13.14 -5.84L-12.56 -5.26M-12.56 -5.26L-12.26 -4.67M-12.26 -4.67L-11.97 -3.80M-11.97 -3.80L-11.97 -2.34M-11.97 -2.34L-12.26 -1.46M-12.26 -1.46L-12.56 -0.88M-12.56 -0.88L-13.14 -0.29M-13.14 -0.29L-14.02 0.00M-16.06 0.00L-14.02 0.00M-9.93 -6.13L-7.30 -6.13M-9.93 -6.13L-9.93 0.00M-7.30 -6.13L-6.42 -5.84M-6.42 -5.84L-6.13 -5.55M-6.13 -5.55L-5.84 -4.96M-5.84 -4.96L-5.84 -4.09M-5.84 -4.09L-6.13 -3.50M-6.13 -3.50L-6.42 -3.21M-6.42 -3.21L-7.30 -2.92M-9.93 -2.92L-7.30 -2.92M-3.80 -6.13L-3.80 0.00M-3.80 0.00L-0.29 0.00"/><path transform="translate(371.50 53.40) rotate(0)" d="M-42.92 -6.13L-41.76 -6.13M-42.92 -6.13L-43.80 -5.84M-41.76 -6.13L-40.88 -5.84M-43.80 -5.84L-44.38 -5.26M-40.88 -5.84L-40.30 -5.26M-44.38 -5.26L-44.38 -4.67M-44.38 -4.67L-44.09 -4.09M-44.09 -4.09L-43.80 -3.80M-43.80 -3.80L-43.22 -3.50M-43.22 -3.50L-41.46 -2.92M-41.46 -2.92L-40.88 -2.63M-40.88 -2.63L-40.59 -2.34M-40.59 -2.34L-40.30 -1.75M-40.30 -1.75L-40.30 -0.88M-44.38 -0.88L-43.80 -0.29M-40.30 -0.88L-40.88 -0.29M-43.80 -0.29L-42.92 0.00M-40.88 -0.29L-41.76 0.00M-42.92 0.00L-41.76 0.00M-37.08 -4.09L-36.21 -4.09M-37.08 -4.09L-37.67 -3.80M-36.21 -4.09L-35.62 -3.80M-37.67 -3.80L-38.25 -3.21M-35.62 -3.80L-35.04 -3.21M-38.25 -3.21L-38.54 -2.34M-38.54 -2.34L-38.54 -1.75M-38.54 -1.75L-38.25 -0.88M-38.25 -0.88L-37.67 -0.29M-35.04 -0.88L-35.62 -0.29M-37.67 -0.29L-37.08 0.00M-35.62 -0.29L-36.21 0.00M-37.08 0.00L-36.21 0.00M-33.00 -6.13L-33.00 0.00M-31.54 -4.09L-30.66 -4.09M-31.54 -4.09L-32.12 -3.80M-30.66 -4.09L-30.08 -3.80M-32.12 -3.80L-33.00 -2.92M-30.08 -3.80L-29.78 -2.92M-29.78 -2.92L-29.78 0.00M-26.28 -4.09L-25.40 -4.09M-26.28 -4.09L-26.86 -3.80M-25.40 -4.09L-24.82 -3.80M-26.86 -3.80L-27.45 -3.21M-24.82 -3.80L-24.53 -3.50M-24.53 -3.50L-24.24 -2.92M-27.45 -3.21L-27.74 -2.34M-24.24 -2.92L-24.24 -2.34M-27.74 -2.34L-24.24 -2.34M-27.74 -2.34L-27.74 -1.75M-27.74 -1.75L-27.45 -0.88M-27.45 -0.88L-26.86 -0.29M-24.24 -0.88L-24.82 -0.29M-26.86 -0.29L-26.28 0.00M-24.82 -0.29L-25.40 0.00M-26.28 0.00L-25.40 0.00M-21.02 -4.09L-20.15 -4.09M-21.02 -4.09L-21.61 -3.80M-20.15 -4.09L-19.56 -3.80M-21.61 -3.80L-22.19 -3.21M-19.56 -3.80L-18.98 -3.21M-22.19 -3.21L-22.48 -2.34M-22.48 -2.34L-22.48 -1.75M-22.48 -1.75L-22.19 -0.88M-22.19 -0.88L-21.61 -0.29M-18.98 -0.88L-19.56 -0.29M-21.61 -0.29L-21.02 0.00M-19.56 -0.29L-20.15 0.00M-21.02 0.00L-20.15 0.00M-16.94 -6.13L-16.94 0.00M-15.48 -4.09L-14.60 -4.09M-15.48 -4.09L-16.06 -3.80M-14.60 -4.09L-14.02 -3.80M-16.06 -3.80L-16.94 -2.92M-14.02 -3.80L-13.72 -2.92M-13.72 -2.92L-13.72 0.00M-11.10 -6.13L-11.10 -1.17M-11.97 -4.09L-9.93 -4.09M-11.10 -1.17L-10.80 -0.29M-10.80 -0.29L-10.22 0.00M-10.22 0.00L-9.64 0.00M-6.72 -4.09L-5.84 -4.09M-6.72 -4.09L-7.30 -3.80M-5.84 -4.09L-5.26 -3.80M-7.30 -3.80L-7.88 -3.21M-5.26 -3.80L-4.96 -3.50M-4.96 -3.50L-4.67 -2.92M-7.88 -3.21L-8.18 -2.34M-4.67 -2.92L-4.67 -2.34M-8.18 -2.34L-4.67 -2.34M-8.18 -2.34L-8.18 -1.75M-8.18 -1.75L-7.88 -0.88M-7.88 -0.88L-7.30 -0.29M-4.67 -0.88L-5.26 -0.29M-7.30 -0.29L-6.72 0.00M-5.26 -0.29L-5.84 0.00M-6.72 0.00L-5.84 0.00M-2.63 -4.09L-2.63 0.00M-1.17 -4.09L-0.29 -4.09M-1.17 -4.09L-1.75 -3.80M-1.75 -3.80L-2.34 -3.21M-2.34 -3.21L-2.63 -2.34"/></g></g><rect x="323.4" y="31.4" width="65.2" height="26.8" fill="none" stroke="#555" stroke-width="0.7"/><circle cx="378.3" cy="39.6" r="2.6" fill="#ff0a0a"/><path d="M375.80 50.10H381.00M378.40 47.50V52.70M375.93 47.63L380.87 52.57M375.93 52.57L380.87 47.63" stroke="#1414a0" stroke-width="0.60" fill="none"/><g stroke="#4fa84f" stroke-width="0.65" fill="none" stroke-linecap="round"><path transform="translate(139.20 215.10) rotate(-90)" d="M4.71 -8.99L3.42 -7.70M4.71 -8.99L4.71 0.00M3.42 -7.70L2.57 -7.28M12.41 -8.99L13.27 -8.99M12.41 -8.99L11.13 -8.56M13.27 -8.99L14.55 -8.56M11.13 -8.56L10.27 -7.28M14.55 -8.56L15.41 -7.28M10.27 -7.28L9.84 -5.14M15.41 -7.28L15.84 -5.14M9.84 -5.14L9.84 -3.85M15.84 -5.14L15.84 -3.85M9.84 -3.85L10.27 -1.71M15.84 -3.85L15.41 -1.71M10.27 -1.71L11.13 -0.43M15.41 -1.71L14.55 -0.43M11.13 -0.43L12.41 0.00M14.55 -0.43L13.27 0.00M12.41 0.00L13.27 0.00M20.97 -8.99L21.83 -8.99M20.97 -8.99L19.69 -8.56M21.83 -8.99L23.11 -8.56M19.69 -8.56L18.83 -7.28M23.11 -8.56L23.97 -7.28M18.83 -7.28L18.40 -5.14M23.97 -7.28L24.40 -5.14M18.40 -5.14L18.40 -3.85M24.40 -5.14L24.40 -3.85M18.40 -3.85L18.83 -1.71M24.40 -3.85L23.97 -1.71M18.83 -1.71L19.69 -0.43M23.97 -1.71L23.11 -0.43M19.69 -0.43L20.97 0.00M23.11 -0.43L21.83 0.00M20.97 0.00L21.83 0.00M29.53 -8.99L30.39 -8.99M29.53 -8.99L28.25 -8.56M30.39 -8.99L31.67 -8.56M28.25 -8.56L27.39 -7.28M31.67 -8.56L32.53 -7.28M27.39 -7.28L26.96 -5.14M32.53 -7.28L32.96 -5.14M26.96 -5.14L26.96 -3.85M32.96 -5.14L32.96 -3.85M26.96 -3.85L27.39 -1.71M32.96 -3.85L32.53 -1.71M27.39 -1.71L28.25 -0.43M32.53 -1.71L31.67 -0.43M28.25 -0.43L29.53 0.00M31.67 -0.43L30.39 0.00M29.53 0.00L30.39 0.00M42.80 -8.99L42.80 0.00M44.94 -5.99L46.22 -5.99M44.94 -5.99L44.08 -5.56M46.22 -5.99L47.08 -5.56M44.08 -5.56L42.80 -4.28M47.08 -5.56L47.51 -4.28M47.51 -4.28L47.51 0.00M50.93 -5.99L50.93 0.00M53.07 -5.99L54.36 -5.99M53.07 -5.99L52.22 -5.56M52.22 -5.56L51.36 -4.71M51.36 -4.71L50.93 -3.42M57.78 -5.99L59.06 -5.99M57.78 -5.99L56.50 -5.56M59.06 -5.99L60.35 -5.56M56.50 -5.56L56.07 -4.71M60.35 -5.56L60.78 -4.71M56.07 -4.71L56.50 -3.85M56.50 -3.85L57.35 -3.42M57.35 -3.42L59.49 -3.00M59.49 -3.00L60.35 -2.57M60.35 -2.57L60.78 -1.71M60.78 -1.71L60.78 -1.28M56.07 -1.28L56.50 -0.43M60.78 -1.28L60.35 -0.43M56.50 -0.43L57.78 0.00M60.35 -0.43L59.06 0.00M57.78 0.00L59.06 0.00"/><path transform="translate(171.90 215.10) rotate(-90)" d="M4.71 -8.99L3.42 -7.70M4.71 -8.99L4.71 0.00M3.42 -7.70L2.57 -7.28M12.41 -8.99L13.27 -8.99M12.41 -8.99L11.13 -8.56M13.27 -8.99L14.55 -8.56M11.13 -8.56L10.27 -7.28M14.55 -8.56L15.41 -7.28M10.27 -7.28L9.84 -5.14M15.41 -7.28L15.84 -5.14M9.84 -5.14L9.84 -3.85M15.84 -5.14L15.84 -3.85M9.84 -3.85L10.27 -1.71M15.84 -3.85L15.41 -1.71M10.27 -1.71L11.13 -0.43M15.41 -1.71L14.55 -0.43M11.13 -0.43L12.41 0.00M14.55 -0.43L13.27 0.00M12.41 0.00L13.27 0.00M20.97 -8.99L21.83 -8.99M20.97 -8.99L19.69 -8.56M21.83 -8.99L23.11 -8.56M19.69 -8.56L18.83 -7.28M23.11 -8.56L23.97 -7.28M18.83 -7.28L18.40 -5.14M23.97 -7.28L24.40 -5.14M18.40 -5.14L18.40 -3.85M24.40 -5.14L24.40 -3.85M18.40 -3.85L18.83 -1.71M24.40 -3.85L23.97 -1.71M18.83 -1.71L19.69 -0.43M23.97 -1.71L23.11 -0.43M19.69 -0.43L20.97 0.00M23.11 -0.43L21.83 0.00M20.97 0.00L21.83 0.00M34.24 -8.99L34.24 0.00M36.38 -5.99L37.66 -5.99M36.38 -5.99L35.52 -5.56M37.66 -5.99L38.52 -5.56M35.52 -5.56L34.24 -4.28M38.52 -5.56L38.95 -4.28M38.95 -4.28L38.95 0.00M42.37 -5.99L42.37 0.00M44.51 -5.99L45.80 -5.99M44.51 -5.99L43.66 -5.56M43.66 -5.56L42.80 -4.71M42.80 -4.71L42.37 -3.42M49.22 -5.99L50.50 -5.99M49.22 -5.99L47.94 -5.56M50.50 -5.99L51.79 -5.56M47.94 -5.56L47.51 -4.71M51.79 -5.56L52.22 -4.71M47.51 -4.71L47.94 -3.85M47.94 -3.85L48.79 -3.42M48.79 -3.42L50.93 -3.00M50.93 -3.00L51.79 -2.57M51.79 -2.57L52.22 -1.71M52.22 -1.71L52.22 -1.28M47.51 -1.28L47.94 -0.43M52.22 -1.28L51.79 -0.43M47.94 -0.43L49.22 0.00M51.79 -0.43L50.50 0.00M49.22 0.00L50.50 0.00"/><path transform="translate(203.70 215.10) rotate(-90)" d="M4.71 -8.99L3.42 -7.70M4.71 -8.99L4.71 0.00M3.42 -7.70L2.57 -7.28M12.41 -8.99L13.27 -8.99M12.41 -8.99L11.13 -8.56M13.27 -8.99L14.55 -8.56M11.13 -8.56L10.27 -7.28M14.55 -8.56L15.41 -7.28M10.27 -7.28L9.84 -5.14M15.41 -7.28L15.84 -5.14M9.84 -5.14L9.84 -3.85M15.84 -5.14L15.84 -3.85M9.84 -3.85L10.27 -1.71M15.84 -3.85L15.41 -1.71M10.27 -1.71L11.13 -0.43M15.41 -1.71L14.55 -0.43M11.13 -0.43L12.41 0.00M14.55 -0.43L13.27 0.00M12.41 0.00L13.27 0.00M25.68 -8.99L25.68 0.00M27.82 -5.99L29.10 -5.99M27.82 -5.99L26.96 -5.56M29.10 -5.99L29.96 -5.56M26.96 -5.56L25.68 -4.28M29.96 -5.56L30.39 -4.28M30.39 -4.28L30.39 0.00M33.81 -5.99L33.81 0.00M35.95 -5.99L37.24 -5.99M35.95 -5.99L35.10 -5.56M35.10 -5.56L34.24 -4.71M34.24 -4.71L33.81 -3.42M40.66 -5.99L41.94 -5.99M40.66 -5.99L39.38 -5.56M41.94 -5.99L43.23 -5.56M39.38 -5.56L38.95 -4.71M43.23 -5.56L43.66 -4.71M38.95 -4.71L39.38 -3.85M39.38 -3.85L40.23 -3.42M40.23 -3.42L42.37 -3.00M42.37 -3.00L43.23 -2.57M43.23 -2.57L43.66 -1.71M43.66 -1.71L43.66 -1.28M38.95 -1.28L39.38 -0.43M43.66 -1.28L43.23 -0.43M39.38 -0.43L40.66 0.00M43.23 -0.43L41.94 0.00M40.66 0.00L41.94 0.00"/></g></svg></body></html>
